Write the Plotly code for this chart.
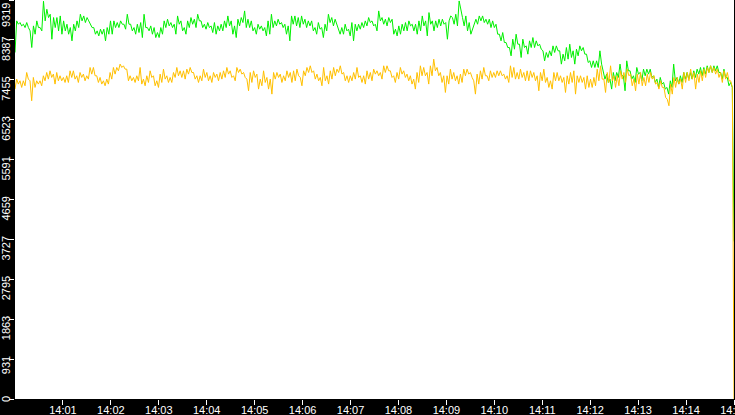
import pandas as pd
import plotly.graph_objects as go

# values, roughly one every 2 s from 14:00 to 14:15
green = [
    8093, 8831, 8753, 8792, 8714, 8753, 8675, 8792, 8675, 8598, 8209, 8714, 8520, 8831, 8675,
    8675, 8598, 9290, 8831, 9103, 8909, 8986, 8403, 8909, 8675, 8909, 8598, 8947, 8520, 8831,
    8598, 8753, 8520, 8675, 8365, 8753, 8598, 8831, 8675, 8986, 8831, 8947, 8792, 8909, 8831,
    8753, 8675, 8675, 8520, 8598, 8481, 8637, 8520, 8637, 8365, 8675, 8520, 8831, 8520, 8831,
    8675, 8792, 8675, 8831, 8753, 8753, 8637, 8986, 8753, 8753, 8598, 8675, 8520, 8753, 8559,
    8792, 8442, 8986, 8675, 8675, 8598, 8714, 8520, 8675, 8442, 8559, 8442, 8675, 8520, 8831,
    8675, 8870, 8714, 8792, 8675, 8753, 8520, 8947, 8753, 8831, 8598, 8675, 8520, 8831, 8675,
    8909, 8753, 8870, 8675, 8986, 8831, 8831, 8675, 8753, 8637, 8792, 8675, 8714, 8559, 8792,
    8520, 8714, 8598, 8753, 8598, 8831, 8675, 8947, 8714, 8831, 8520, 8714, 8442, 8870, 8714,
    8909, 8792, 9064, 8675,
    8870, 8675, 8831, 8598, 8675, 8520, 8753, 8637, 8714, 8598, 8675, 8481, 8831, 8520, 8986,
    8675, 8831, 8714, 8870, 8753, 8792, 8675, 8753, 8520, 8714, 8365, 8947, 8753, 8947, 8714,
    8909, 8675, 8947, 8753, 8870, 8675, 8831, 8714, 8831, 8598, 8675, 8520, 8792, 8637, 8675,
    8442, 8753, 8598, 8986, 8792, 8909, 8714, 8870, 8753, 8637, 8520, 8675, 8520, 8753, 8598,
    8637, 8481, 8792, 8365, 8753, 8598, 8753, 8637, 8792, 8675, 8831, 8714, 8909, 8792, 8831,
    8714, 8753, 8598, 9064, 8831, 8909, 8753, 8870, 8714, 8909, 8792, 8870, 8520, 8637, 8481,
    8714, 8520, 8753, 8598, 8792, 8598, 8831, 8714, 8753, 8598, 8753, 8520, 8831, 8598, 8947,
    8714, 8831, 8481, 9025, 8753, 8831, 8598, 8831, 8675, 8870, 8714, 8870, 8753, 8792, 8403,
    8831, 8947, 8909, 8753, 8986, 8714, 9297, 9064, 8909, 8714, 8947, 8598, 8792, 8520, 8637,
    8714, 8870, 8753, 8947, 8831, 8947, 8792, 8870, 8753,
    8870, 8675, 8831, 8675, 8753, 8520, 8520, 8365, 8559, 8326, 8326, 8209, 8209, 8015, 8404,
    8170, 8520, 8287, 8287, 7976, 8404, 8209, 8248, 8054, 8365, 8209, 8442, 8209, 8365, 8248,
    8287, 8170, 8132, 7898, 8093, 7976, 8132, 8015, 8248, 8093, 8248, 8132, 8132, 7821, 8054,
    7898, 8209, 7937, 8287, 7976, 8132, 7821, 8170, 8015, 8248, 8132, 8209, 8054, 8054, 7860,
    7898, 7743, 7898, 7743, 7898, 7743, 8132, 7821, 7626, 7471, 7588, 7393, 7471, 7238, 7626,
    7432, 7626, 7510, 7821, 7549, 7549, 7199, 7898, 7665, 7665, 7471, 7549, 7393, 7743, 7588,
    7626, 7432, 7704, 7549, 7704, 7588, 7704, 7510, 7549, 7393, 7471, 7277, 7510, 7355, 7393,
    7238, 7277, 7121, 7432, 7277, 7821, 7432, 7510, 7355, 7549, 7393, 7626, 7471, 7626, 7471,
    7626, 7471, 7665, 7510, 7704, 7588, 7743, 7549, 7743, 7588, 7782, 7626, 7782, 7626, 7782,
    7665, 7782, 7626, 7626, 7471, 7704, 7510, 7510, 7316, 7393, 7277,
    3680,
]

yellow = [
    7238, 7471, 7355, 7432, 7277, 7432, 7316, 7626, 7471, 7432, 6966, 7510, 7277, 7432, 7355,
    7432, 7316, 7549, 7432, 7626, 7471, 7665, 7510, 7588, 7355, 7626, 7432, 7549, 7432, 7510,
    7393, 7549, 7393, 7665, 7510, 7665, 7471, 7549, 7393, 7626, 7510, 7588, 7432, 7549, 7471,
    7743, 7588, 7743, 7549, 7549, 7393, 7510, 7355, 7432, 7316, 7471, 7355, 7626, 7471, 7743,
    7588, 7743, 7665, 7821, 7743, 7782, 7704, 7704, 7432, 7549, 7432, 7510, 7393, 7549, 7432,
    7743, 7355, 7471, 7316, 7549, 7393, 7665, 7510, 7549, 7316, 7432, 7277, 7588, 7393, 7704,
    7471, 7549, 7393, 7510, 7393, 7626, 7510, 7743, 7549, 7665, 7510, 7665, 7471, 7704, 7588,
    7743, 7626, 7626, 7471, 7549, 7393, 7549, 7432, 7704, 7510, 7626, 7432, 7549, 7393, 7626,
    7510, 7588, 7432, 7626, 7471, 7665, 7510, 7743, 7588, 7665, 7510, 7549, 7432, 7743, 7626,
    7704, 7588, 7626, 7510, 7471, 7199,
    7626, 7393, 7665, 7510, 7588, 7238, 7471, 7316, 7665, 7393, 7510, 7238, 7471, 7121, 7626,
    7471, 7626, 7510, 7588, 7393, 7549, 7432, 7665, 7510, 7626, 7393, 7665, 7432, 7704, 7549,
    7510, 7316, 7665, 7549, 7743, 7626, 7782, 7626, 7665, 7471, 7588, 7432, 7510, 7316, 7743,
    7432, 7549, 7355, 7665, 7471, 7743, 7549, 7704, 7626, 7782, 7588, 7626, 7432, 7549, 7393,
    7549, 7432, 7626, 7471, 7743, 7510, 7549, 7393, 7549, 7355, 7665, 7471, 7626, 7432, 7704,
    7588, 7665, 7549, 7626, 7471, 7782, 7626, 7782, 7665, 7665, 7510, 7549, 7393, 7626, 7471,
    7743, 7588, 7665, 7510, 7588, 7432, 7549, 7355, 7471, 7238, 7626, 7393, 7782, 7549, 7743,
    7549, 7626, 7355, 7782, 7549, 7937, 7665, 7743, 7549, 7626, 7393, 7549, 7160, 7549, 7355,
    7704, 7471, 7626, 7432, 7549, 7355, 7588, 7393, 7704, 7549, 7704, 7588, 7626, 7510, 7432,
    7121, 7588, 7355, 7665, 7471, 7743, 7549, 7549, 7432,
    7665, 7510, 7626, 7510, 7665, 7549, 7665, 7549, 7588, 7471, 7549, 7393, 7782, 7510, 7743,
    7471, 7626, 7471, 7704, 7510, 7626, 7432, 7665, 7432, 7665, 7510, 7626, 7432, 7549, 7199,
    7626, 7432, 7704, 7393, 7510, 7277, 7432, 7238, 7626, 7432, 7626, 7432, 7549, 7393, 7510,
    7160, 7549, 7355, 7626, 7393, 7665, 7121, 7549, 7393, 7549, 7393, 7510, 7238, 7549, 7277,
    7471, 7277, 7510, 7316, 7704, 7432, 7782, 7471, 7471, 7160, 7626, 7393, 7782, 7432, 7549,
    7277, 7549, 7316, 7665, 7471, 7626, 7393, 7704, 7549, 7588, 7316, 7471, 7199, 7588, 7355,
    7626, 7316, 7510, 7316, 7588, 7393, 7626, 7471, 7549, 7355, 7393, 7238, 7432, 7277, 7277,
    7044, 7000, 6849, 7355, 7121, 7510, 7277, 7510, 7355, 7471, 7238, 7626, 7393, 7626, 7432,
    7704, 7471, 7626, 7238, 7588, 7393, 7665, 7432, 7704, 7510, 7743, 7626, 7782, 7626, 7743,
    7588, 7704, 7510, 7626, 7393, 7665, 7471, 7626, 7432, 7432, 7277,
    0,
]

y_ticks = [0, 931, 1863, 2795, 3727, 4659, 5591, 6523, 7455, 8387, 9319]
x_ticks = ['14:01', '14:02', '14:03', '14:04', '14:05', '14:06', '14:07', '14:08',
           '14:09', '14:10', '14:11', '14:12', '14:13', '14:14', '14:15']

day = '2024-01-01 '
start, end = day + '14:00:00', day + '14:15:00'
t_green = pd.date_range(start, end, periods=len(green))
t_yellow = pd.date_range(start, end, periods=len(yellow))

fig = go.Figure()
fig.add_trace(go.Scatter(x=t_green, y=green, mode='lines',
                         line=dict(color='#00f000', width=1)))
fig.add_trace(go.Scatter(x=t_yellow, y=yellow, mode='lines',
                         line=dict(color='#ffc000', width=1)))

axis_font = dict(family='Liberation Sans, Arial, sans-serif', size=11, color='white')
fig.update_layout(
    template='none',
    width=735, height=415,
    margin=dict(l=15, r=1, t=0, b=16),
    paper_bgcolor='black',
    plot_bgcolor='white',
    showlegend=False,
)
fig.update_xaxes(
    range=[start, end],
    tickvals=[day + t for t in x_ticks], ticktext=x_ticks,
    ticks='outside', ticklen=5, tickcolor='white', tickwidth=1,
    ticklabelstandoff=-4, ticklabeloverflow='allow',
    tickfont=axis_font, showgrid=False, zeroline=False, showline=False,
    automargin=False,
)
fig.update_yaxes(
    range=[0, 9319],
    tickvals=y_ticks, showticklabels=False,
    ticks='outside', ticklen=5, tickcolor='white', tickwidth=1,
    showgrid=False, zeroline=False, showline=False,
    automargin=False,
)

# y labels hang down from their tick, rotated to read bottom-up
# (the top one is pushed down so it stays inside the window)
for v in y_ticks:
    fig.add_annotation(x=0, xref='paper', y=v, yref='y', text=str(v),
                       textangle=-90, xanchor='right', yanchor='top',
                       xshift=-1, yshift=5 if v < y_ticks[-1] else -1,
                       showarrow=False, font=axis_font)

# page margin off so the figure sits flush in the window
fig.write_html("out.html", config={'displayModeBar': False},
               post_script="document.body.style.margin='0';"
                           "document.body.style.overflow='hidden';")
